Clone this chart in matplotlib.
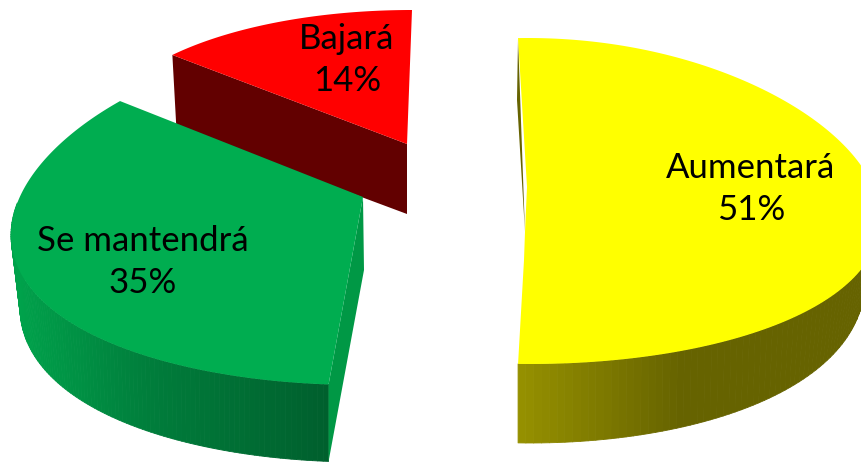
import numpy as np
import matplotlib
matplotlib.use("Agg")
import matplotlib.pyplot as plt
from matplotlib.collections import PolyCollection
from matplotlib.colors import to_rgb

categories = ["Aumentará", "Se mantendrá", "Bajará"]
values = [51, 35, 14]

# slice geometry in pixels: ellipse centre, radii, widening towards the front, depth
centers = [(529, 201), (360, 213), (412, 134)]
radii = [(349, 163), (346, 172), (311, 124)]
widen = [0.112, 0.133, 0.0]
shear = [-1.25, 0.0, 0.0]
rotation = [-1.8, 1.0, 0.0]
depths = [79, 77, 70]
depth_side = [0.6, 0.85, 1.0]  # share of the depth left at the far sides
pull_side = [0.95, 0.97, 1.0]  # lower rim drawn in a little at the far sides
apexes = [(526, 232), (363, 197), (407, 144)]

top_colors = ["#ffff00", "#00ad50", "#ff0000"]
cut_colors = ["#666300", "#009845", "#620000"]
# side shading as (pixel x, colour) stops
side_x = [(518, 680), (15, 150, 330), (170, 410)]
side_c = [("#969100", "#666300"), ("#00a24b", "#007d3b", "#005f2d"), ("#620000", "#620000")]

label_pos = [(751, 189), (143, 262), (347, 60)]

fig = plt.figure(figsize=(8.61, 4.62), dpi=100)
ax = fig.add_axes([0, 0, 1, 1])
ax.set_xlim(0, 861)
ax.set_ylim(462, 0)
ax.axis("off")
plt.rcParams["font.family"] = ["Lato", "DejaVu Sans"]


def arc(i, a0, a1, n=160):
    t = np.radians(np.linspace(a0, a1, n) + rotation[i])
    u, v = np.sin(t), np.cos(t)
    cx, cy = centers[i]
    rx, ry = radii[i]
    return cx + rx * u * (1 - widen[i] * v) + shear[i] * v, cy - ry * v, v


def side_strips(i, x, y, v):
    stops = np.array([to_rgb(c) for c in side_c[i]])
    cx = centers[i][0]
    front = np.clip(-v, 0, 1)
    d = depths[i] * (depth_side[i] + (1 - depth_side[i]) * front)
    xb = cx + (x - cx) * (1 - (1 - pull_side[i]) * (1 - front))
    yb = y + d
    polys, cols = [], []
    for j in range(len(x) - 1):
        if v[j] > 0.05 and v[j + 1] > 0.05:
            continue
        polys.append([(x[j], y[j]), (x[j + 1], y[j + 1]), (xb[j + 1], yb[j + 1]), (xb[j], yb[j])])
        xm = (x[j] + x[j + 1]) / 2
        cols.append([np.interp(xm, side_x[i], stops[:, c]) for c in range(3)])
    return PolyCollection(polys, facecolors=cols, edgecolors=cols, linewidths=0.6)


ends = np.cumsum(values) / sum(values) * 360
starts = np.concatenate([[0], ends[:-1]])

# back to front: red, yellow, green
for i in [2, 0, 1]:
    x, y, v = arc(i, starts[i], ends[i])
    ax_, ay_ = apexes[i]
    if i != 2:
        ax.add_collection(side_strips(i, x, y, v))
    d = depths[i]
    if i == 1:
        # cut face seen on the right of the green slice
        ax.fill([ax_, ax_ + 1, x[0], x[0]], [ay_, ay_ + 73, y[0] + d, y[0]], color=cut_colors[i], lw=0)
    if i == 2:
        # front cut face of the red slice, tucked behind the green one
        ax.fill([x[0], ax_, ax_, x[0] + 4], [y[0], ay_, ay_ + 70, y[0] + 73], color=cut_colors[i], lw=0)
    if i == 0:
        ax.fill([x[0], 517, ax_ - 1], [y[0], 100, ay_], color=cut_colors[i], lw=0)
        ax.fill(np.r_[x, 524, 525, 527], np.r_[y, 260, ay_, 187], color=top_colors[i], lw=0)
    else:
        ax.fill(np.r_[x, ax_], np.r_[y, ay_], color=top_colors[i], lw=0)

for name, val, (lx, ly) in zip(categories, values, label_pos):
    ax.text(lx, ly, f"{name}\n{val}%", ha="center", va="center", fontsize=25, linespacing=1.4, color="black")

fig.savefig("out.png", dpi=100)
